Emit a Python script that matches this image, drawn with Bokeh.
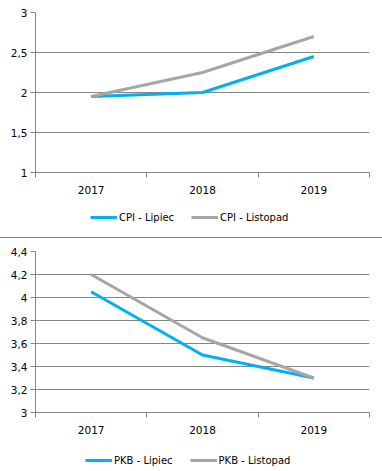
from bokeh.plotting import figure
from bokeh.models import Range1d, FixedTicker, Legend, LegendItem, Div, ColumnDataSource
from bokeh.layouts import column
from bokeh.embed import file_html
from bokeh.resources import INLINE

years = ["2017", "2018", "2019"]
cpi_lipiec = [1.95, 2.0, 2.45]
cpi_listopad = [1.95, 2.25, 2.7]
pkb_lipiec = [4.05, 3.5, 3.3]
pkb_listopad = [4.2, 3.65, 3.3]
cpi_ticks = [1.0, 1.5, 2.0, 2.5, 3.0]
pkb_ticks = [3.0, 3.2, 3.4, 3.6, 3.8, 4.0, 4.2, 4.4]
cpi_labels = ["CPI - Lipiec", "CPI - Listopad"]
pkb_labels = ["PKB - Lipiec", "PKB - Listopad"]

BLUE = "#00B0F0"
GRAY = "#A6A6A6"
AXIS = "#868686"
FONT = "DejaVu Sans"
W = 374


def fmt(v):
    return ("%g" % v).replace(".", ",")


def make_chart(a, b, yticks, height, top, bottom):
    x = [i + 0.5 for i in range(len(years))]
    src = ColumnDataSource(dict(x=x, a=a, b=b))
    p = figure(width=W, height=height, output_backend="svg", toolbar_location=None,
               x_range=Range1d(0, len(years)), y_range=Range1d(yticks[0], yticks[-1]),
               min_border_left=35, min_border_right=5, min_border_top=top,
               min_border_bottom=bottom)
    p.outline_line_color = None
    p.xgrid.grid_line_color = None
    p.ygrid.grid_line_color = AXIS
    p.ygrid.grid_line_width = 1
    p.ygrid.ticker = FixedTicker(ticks=yticks)

    ya = p.yaxis[0]
    ya.ticker = FixedTicker(ticks=yticks)
    ya.major_label_overrides = {t: fmt(t) for t in yticks}
    ya.axis_line_color = AXIS
    ya.major_tick_line_color = AXIS
    ya.major_tick_in = 0
    ya.major_tick_out = 5
    ya.minor_tick_line_color = None
    ya.major_label_standoff = 3
    ya.major_label_text_font = FONT
    ya.major_label_text_font_size = "10.5px"
    ya.major_label_text_color = "#000000"

    xa = p.xaxis[0]
    xa.ticker = FixedTicker(ticks=x, minor_ticks=list(range(len(years) + 1)))
    xa.major_label_overrides = {xi: yr for xi, yr in zip(x, years)}
    xa.axis_line_color = AXIS
    xa.major_tick_line_color = None
    xa.minor_tick_line_color = AXIS
    xa.minor_tick_in = 0
    xa.minor_tick_out = 5
    xa.major_label_standoff = 7
    xa.major_label_text_font = FONT
    xa.major_label_text_font_size = "10.5px"
    xa.major_label_text_color = "#000000"

    p.line("x", "a", source=src, line_color=BLUE, line_width=3)
    p.line("x", "b", source=src, line_color=GRAY, line_width=3)
    return p, src


def make_legend(src, labels, height, lx, ly):
    # legend strip: same series, drawn outside its own view so only the keys show
    q = figure(width=W, height=height, output_backend="svg", toolbar_location=None,
               x_axis_type=None, y_axis_type=None, min_border=0,
               x_range=Range1d(100, 101), y_range=Range1d(100, 101))
    q.outline_line_color = None
    r1 = q.line("x", "a", source=src, line_color=BLUE, line_width=3)
    r2 = q.line("x", "b", source=src, line_color=GRAY, line_width=3)
    leg = Legend(items=[LegendItem(label=labels[0], renderers=[r1]),
                        LegendItem(label=labels[1], renderers=[r2])],
                 orientation="horizontal", location=(lx, ly),
                 glyph_width=27, glyph_height=12, label_standoff=2, spacing=17,
                 padding=0, margin=0, border_line_color=None,
                 background_fill_alpha=0, label_text_font=FONT,
                 label_text_font_size="10px", label_text_color="#000000",
                 label_height=12)
    q.add_layout(leg, "center")
    return q


p1, s1 = make_chart(cpi_lipiec, cpi_listopad, cpi_ticks, 200, 12, 28)
l1 = make_legend(s1, cpi_labels, 37, 55, 14)
sep = Div(width=382, height=1, margin=0, styles={"background-color": AXIS})
p2, s2 = make_chart(pkb_lipiec, pkb_listopad, pkb_ticks, 202, 13, 28)
l2 = make_legend(s2, pkb_labels, 31, 50, 5)

layout = column(p1, l1, sep, p2, l2, spacing=0)
open("out.html", "w").write(file_html(layout, INLINE))
